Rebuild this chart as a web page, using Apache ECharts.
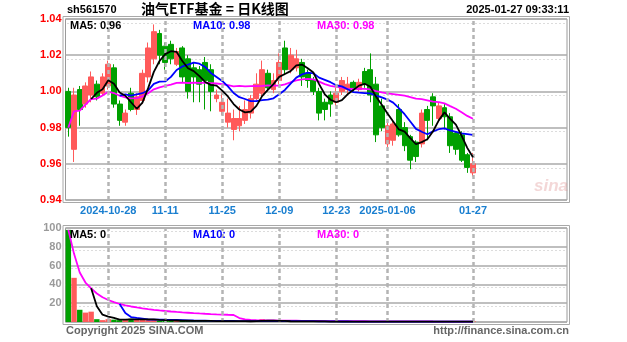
<!DOCTYPE html>
<html><head><meta charset="utf-8">
<script src="https://cdn.jsdelivr.net/npm/echarts@6/dist/echarts.min.js"></script>
<style>html,body{margin:0;padding:0;background:#fff}#c{width:627px;height:342px}</style>
</head><body><div id="c"></div>
<script>
const dates = [
'2024-10-17','2024-10-18','2024-10-21','2024-10-22','2024-10-23','2024-10-24','2024-10-25','2024-10-28','2024-10-29','2024-10-30','2024-10-31',
'2024-11-01','2024-11-04','2024-11-05','2024-11-06','2024-11-07','2024-11-08','2024-11-11','2024-11-12','2024-11-13','2024-11-14','2024-11-15',
'2024-11-18','2024-11-19','2024-11-20','2024-11-21','2024-11-22','2024-11-25','2024-11-26','2024-11-27','2024-11-28','2024-11-29',
'2024-12-02','2024-12-03','2024-12-04','2024-12-05','2024-12-06','2024-12-09','2024-12-10','2024-12-11','2024-12-12','2024-12-13',
'2024-12-16','2024-12-17','2024-12-18','2024-12-19','2024-12-20','2024-12-23','2024-12-24','2024-12-25','2024-12-26','2024-12-27',
'2024-12-30','2024-12-31','2025-01-02','2025-01-03','2025-01-06','2025-01-07','2025-01-08','2025-01-09','2025-01-10',
'2025-01-13','2025-01-14','2025-01-15','2025-01-16','2025-01-17','2025-01-20','2025-01-21','2025-01-22','2025-01-23','2025-01-24','2025-01-27'];

const opens = [1.000,0.968,1.001,0.993,0.998,1.004,0.999,1.003,1.013,0.993,0.983,0.999,0.990,0.995,1.008,1.018,1.032,1.025,1.026,1.015,1.024,1.018,1.013,1.012,1.016,1.012,0.996,0.989,0.983,0.979,0.981,0.984,0.988,0.996,0.999,1.010,1.001,1.006,1.024,1.012,1.013,1.016,1.010,1.006,1.000,0.994,0.998,0.994,1.000,1.001,1.005,1.001,1.011,1.012,1.004,0.992,0.971,0.973,0.990,0.980,0.975,0.972,0.971,0.990,0.997,0.985,0.991,0.986,0.977,0.976,0.965,0.955];
const closes = [0.980,0.998,0.990,1.003,1.008,0.997,1.008,1.015,0.993,0.984,0.988,0.990,0.997,1.010,1.024,1.033,1.020,1.016,1.018,1.022,1.008,1.000,1.008,1.004,1.006,1.000,0.998,0.994,0.988,0.985,0.985,0.990,0.996,1.004,1.012,1.002,1.006,1.016,1.012,1.020,1.018,1.008,1.006,1.000,0.988,0.990,0.993,0.999,1.006,1.004,1.002,1.005,1.004,0.998,0.976,0.980,0.981,0.982,0.976,0.970,0.962,0.964,0.988,0.984,0.992,0.992,0.986,0.970,0.968,0.962,0.958,0.960];
const highs = [1.002,1.002,1.003,1.005,1.011,1.006,1.010,1.017,1.015,0.995,0.990,1.002,0.999,1.012,1.027,1.037,1.034,1.027,1.028,1.024,1.025,1.020,1.016,1.014,1.019,1.015,1.001,1.000,0.996,0.990,0.992,0.995,0.998,1.010,1.017,1.012,1.010,1.021,1.028,1.024,1.023,1.018,1.012,1.008,1.002,0.996,1.000,1.003,1.008,1.008,1.006,1.007,1.013,1.021,1.008,0.996,0.983,0.984,0.993,0.983,0.976,0.973,0.990,0.992,0.999,0.994,0.993,0.988,0.978,0.978,0.966,0.966];
const lows = [0.975,0.961,0.981,0.991,0.994,0.995,0.998,1.001,0.991,0.981,0.981,0.989,0.987,0.993,1.005,1.015,1.015,1.012,1.015,1.014,1.005,0.996,0.994,0.994,0.990,0.989,0.994,0.987,0.980,0.973,0.978,0.982,0.985,0.995,0.997,1.000,0.999,1.004,1.009,1.010,1.011,1.003,1.002,0.998,0.984,0.984,0.986,0.992,0.998,0.999,1.000,1.000,1.002,0.994,0.972,0.978,0.969,0.970,0.975,0.967,0.957,0.961,0.969,0.973,0.981,0.983,0.979,0.966,0.965,0.961,0.955,0.953];
const volumes = [98,47,13,10,11,3,2,3,2.5,2,3,3.5,3,2.5,2,2.5,1.5,1.5,1.5,1,1.2,1.5,1,1,1.2,1,0.8,1,0.8,1,0.7,0.8,0.8,1,3,1,0.8,0.7,0.8,0.6,0.6,0.7,0.5,0.5,0.6,0.5,0.4,0.5,0.4,0.4,0.5,0.4,0.4,0.6,0.5,0.4,0.4,0.5,0.4,0.4,0.5,0.4,0.4,0.3,0.4,0.3,0.4,0.3,0.4,0.4,0.3,0.4];

const tickDates = ['2024-10-28','2024-11-11','2024-11-25','2024-12-09','2024-12-23','2025-01-06','2025-01-27'];
const tickText  = ['2024-10-28','11-11','11-25','12-09','12-23','2025-01-06','01-27'];
const priceTicks = [0.94,0.96,0.98,1.00,1.02,1.04];
const volTicks = [0,20,40,60,80,100];

const totalSlots = 88;
const cats = dates.concat(Array.from({length: totalSlots - dates.length}, (_, k) => 'pad' + k));

function ma(arr, n, expanding) {
  return arr.map((_, i) => {
    if (i < n - 1 && !expanding) return '-';
    const s = Math.max(0, i - n + 1);
    let sum = 0;
    for (let j = s; j <= i; j++) sum += arr[j];
    return +(sum / (i - s + 1)).toFixed(5);
  });
}
const ma5 = ma(closes, 5), ma10 = ma(closes, 10), ma30 = ma(closes, 30, true);
const vma5 = ma(volumes, 5), vma10 = ma(volumes, 10), vma30 = ma(volumes, 30, true);
const last = a => a[a.length - 1];

const RED = '#ff5a5a', GREEN = '#00a000';
const FONT = 'Liberation Sans';
const GL = 65.5, GR = 60;

const vLines = () => ({
  symbol: ['none','none'], silent: true, label: {show: false}, animation: false,
  lineStyle: {color: '#b4b4b4', type: [4,3], width: 2.5},
  data: tickDates.map(d => ({xAxis: d}))
});

const candleData = dates.map((d, i) => [opens[i], closes[i], lows[i], highs[i]]);
const volData = volumes.map((v, i) => ({value: v, itemStyle: {color: closes[i] >= opens[i] ? RED : GREEN}}));

const chart = echarts.init(document.getElementById('c'), null, {renderer: 'canvas'});
const lbl = (color) => ({fontFamily: FONT, fontWeight: 'bold', fontSize: 11, fill: color});

chart.setOption({
  animation: false,
  backgroundColor: '#fff',
  grid: [
    {left: GL, right: GR, top: 19, height: 181, show: true, borderColor: '#9a9a9a', borderWidth: 1},
    {left: GL, right: GR, top: 228, height: 94, show: true, borderColor: '#9a9a9a', borderWidth: 1},
    {left: GL + 2, right: GR + 2, top: 23, height: 181 * 0.8},
    {left: GL + 2, right: GR + 2, top: 231, height: 94 * 0.8}
  ],
  xAxis: [
    {type: 'category', gridIndex: 0, data: cats, boundaryGap: true,
     axisLine: {show: false}, axisTick: {show: false}, splitLine: {show: false},
     axisLabel: {color: '#1a7fd0', fontFamily: FONT, fontWeight: 'bold', fontSize: 11, margin: 5,
       interval: (idx, val) => tickDates.indexOf(val) >= 0,
       formatter: v => { const k = tickDates.indexOf(v); return k >= 0 ? tickText[k] : ''; }}},
    {type: 'category', gridIndex: 1, data: cats, boundaryGap: true,
     axisLine: {show: false}, axisTick: {show: false}, splitLine: {show: false}, axisLabel: {show: false}},
    {type: 'value', gridIndex: 2, min: 0, max: 1, show: false},
    {type: 'value', gridIndex: 3, min: 0, max: 1, show: false}
  ],
  yAxis: [
    {type: 'value', gridIndex: 0, min: priceTicks[0], max: priceTicks[priceTicks.length-1], interval: 0.02,
     axisLine: {show: false}, axisTick: {show: false},
     axisLabel: {color: '#ff0000', fontFamily: FONT, fontWeight: 'bold', fontSize: 11, margin: 4, formatter: v => v.toFixed(2)},
     splitLine: {lineStyle: {color: '#aaaaaa', width: 1.5}}},
    {type: 'value', gridIndex: 1, min: volTicks[0], max: volTicks[volTicks.length-1], interval: 20,
     axisLine: {show: false}, axisTick: {show: false},
     axisLabel: {color: '#9a9a9a', fontFamily: FONT, fontWeight: 'bold', fontSize: 11, margin: 4, showMinLabel: false},
     splitLine: {lineStyle: {color: '#aaaaaa', width: 1.5}}},
    {type: 'value', gridIndex: 2, min: 0, max: 4, interval: 1, axisLine: {show: false}, axisTick: {show: false}, axisLabel: {show: false},
     splitLine: {lineStyle: {color: '#b8b8b8', type: [1,3], width: 1}}},
    {type: 'value', gridIndex: 3, min: 0, max: 4, interval: 1, axisLine: {show: false}, axisTick: {show: false}, axisLabel: {show: false},
     splitLine: {lineStyle: {color: '#b8b8b8', type: [1,3], width: 1}}}
  ],
  series: [
    {type: 'candlestick', xAxisIndex: 0, yAxisIndex: 0, data: candleData, barWidth: '95%',
     itemStyle: {color: RED, color0: GREEN, borderColor: RED, borderColor0: GREEN, borderWidth: 1},
     markLine: vLines(), z: 2},
    {type: 'line', xAxisIndex: 0, yAxisIndex: 0, data: ma30, showSymbol: false, lineStyle: {color: '#ff00ff', width: 1.8}, z: 3},
    {type: 'line', xAxisIndex: 0, yAxisIndex: 0, data: ma10, showSymbol: false, lineStyle: {color: '#0000ff', width: 1.8}, z: 4},
    {type: 'line', xAxisIndex: 0, yAxisIndex: 0, data: ma5, showSymbol: false, lineStyle: {color: '#000000', width: 1.8}, z: 5},
    {type: 'bar', xAxisIndex: 1, yAxisIndex: 1, data: volData, barWidth: '95%', barMinHeight: 1, markLine: vLines(), z: 2},
    {type: 'line', xAxisIndex: 1, yAxisIndex: 1, data: vma30, showSymbol: false, lineStyle: {color: '#ff00ff', width: 1.8}, z: 3},
    {type: 'line', xAxisIndex: 1, yAxisIndex: 1, data: vma10, showSymbol: false, lineStyle: {color: '#0000ff', width: 1.8}, z: 4},
    {type: 'line', xAxisIndex: 1, yAxisIndex: 1, data: vma5, showSymbol: false, lineStyle: {color: '#000000', width: 1.8}, z: 5}
  ],
  graphic: [
    {type: 'rect', silent: true, z: 0, shape: {x: 63, y: 16.5, width: 627 - GR - 63 + 2.5, height: 186}, style: {fill: 'none', stroke: '#a8a8a8', lineWidth: 1}},
    {type: 'rect', silent: true, z: 0, shape: {x: 63, y: 225.5, width: 627 - GR - 63 + 2.5, height: 99}, style: {fill: 'none', stroke: '#a8a8a8', lineWidth: 1}},
    {type: 'text', left: 67, top: 4, style: Object.assign({text: 'sh561570'}, lbl('#000'))},
    {type: 'text', left: 141, top: 2, style: {text: '油气ETF基金 = 日K线图', fontFamily: 'Noto Sans CJK SC', fontWeight: 'bold', fontSize: 14, fill: '#000'}},
    {type: 'text', right: 58, top: 4, style: Object.assign({text: '2025-01-27 09:33:11'}, lbl('#000'))},
    {type: 'text', left: 70, top: 20, z: 10, style: Object.assign({text: 'MA5: ' + last(ma5).toFixed(2)}, lbl('#000'))},
    {type: 'text', left: 193, top: 20, z: 10, style: Object.assign({text: 'MA10: ' + last(ma10).toFixed(2)}, lbl('#0000ff'))},
    {type: 'text', left: 317, top: 20, z: 10, style: Object.assign({text: 'MA30: ' + last(ma30).toFixed(2)}, lbl('#ff00ff'))},
    {type: 'text', left: 70, top: 229, z: 10, style: Object.assign({text: 'MA5: ' + last(vma5).toFixed(0)}, lbl('#000'))},
    {type: 'text', left: 193, top: 229, z: 10, style: Object.assign({text: 'MA10: ' + last(vma10).toFixed(0)}, lbl('#0000ff'))},
    {type: 'text', left: 317, top: 229, z: 10, style: Object.assign({text: 'MA30: ' + last(vma30).toFixed(0)}, lbl('#ff00ff'))},
    {type: 'text', left: 534, top: 178, z: 1, style: {text: 'sina', fontFamily: FONT, fontStyle: 'italic', fontWeight: 'bold', fontSize: 17, fill: 'rgba(220,140,140,0.35)'}},
    {type: 'text', left: 66, top: 325, style: Object.assign({text: 'Copyright 2025 SINA.COM'}, lbl('#666'))},
    {type: 'text', right: 58, top: 325, style: Object.assign({text: 'http://finance.sina.com.cn'}, lbl('#666'))}
  ]
});
</script></body></html>
